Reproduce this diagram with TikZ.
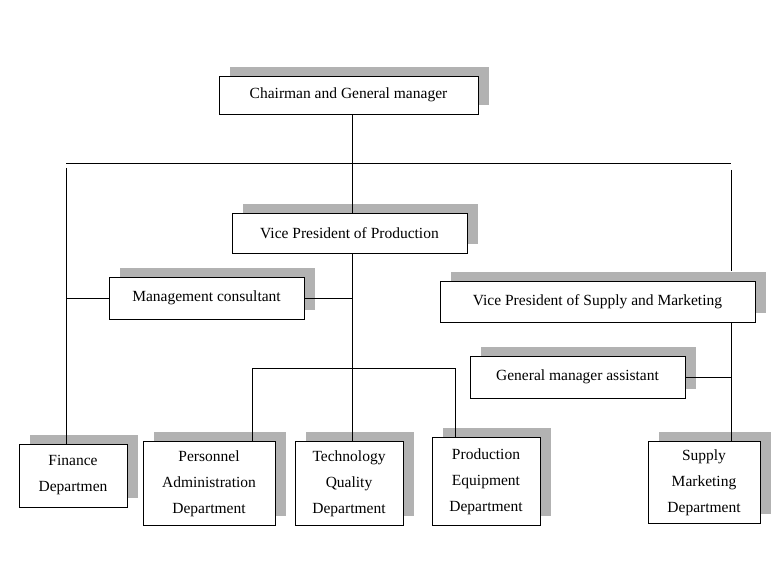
\documentclass[tikz,border=0pt]{standalone}
\usepackage{fontspec}
\setmainfont{Liberation Serif}
\usetikzlibrary{shadows}

\tikzset{
  box/.style = {draw, fill=white, inner sep=2pt, font=\fontsize{15.5pt}{26pt}\selectfont, align=center,
    copy shadow={shadow xshift=11pt, shadow yshift=9pt, fill=black!30, draw=none}},
  dept/.style = {box, text height=11pt, text depth=56pt},
  line/.style = {thin}
}

\begin{document}
\begin{tikzpicture}[x=1pt, y=-1pt]
\useasboundingbox (0,0) rectangle (781,569);
% top level
\node[box, minimum width=259pt, minimum height=38pt] (chair) at (348.5,95) {Chairman and General manager};
\node[box, minimum width=235pt, minimum height=40pt] (vpp) at (349.5,233) {Vice President of Production};
\node[box, minimum width=195pt, minimum height=42pt] (mc) at (206.5,298) {Management consultant};
\node[box, minimum width=315pt, minimum height=41pt] (vps) at (597.5,301.5) {Vice President of Supply and Marketing};
\node[box, minimum width=215pt, minimum height=42pt] (gma) at (577.5,377) {General manager assistant};
% departments
\node[box, minimum width=108pt, minimum height=63pt] (fin) at (73,475.5) {Finance\\Departmen};
\node[box, minimum width=132pt, text width=128pt, minimum height=84pt, anchor=north, text height=11pt] (pers) at (209,441) {Personnel\\Administration\\Department};
\node[box, minimum width=108pt, text width=104pt, minimum height=84pt, anchor=north, text height=11pt] (tech) at (349,441) {Technology\\Quality\\Department};
\node[box, minimum width=108pt, text width=104pt, minimum height=88pt, anchor=north, text height=11pt] (prod) at (486,437) {Production\\Equipment\\Department};
\node[box, minimum width=112pt, text width=108pt, minimum height=82pt, anchor=north, text height=11pt] (sup) at (704,441) {Supply\\Marketing\\Department};
% junctions
\coordinate (jl) at (66,163);
\coordinate (jr) at (731,163);
\coordinate (jc) at (352,163);
\coordinate (jm) at (352,298);
\coordinate (jg) at (731,377);
\coordinate (ja) at (252,368);
\coordinate (jb) at (455,368);
% connectors
\draw[line] (jl) -- (jr);
\draw[line] (chair.south -| jc) -- (vpp.north -| jc);
\draw[line] (66,168) -- (fin.north -| jl);
\draw[line] (mc.west) -- (mc.west -| jl);
\draw[line] (mc.east) -- (jm);
\draw[line] (731,170) -- (731,271);
\draw[line] (vpp.south -| jc) -- (tech.north -| jc);
\draw[line] (pers.north -| ja) -- (ja) -- (jb) -- (prod.north -| jb);
\draw[line] (vps.south -| jg) -- (sup.north -| jg);
\draw[line] (gma.east) -- (jg);
\end{tikzpicture}
\end{document}
